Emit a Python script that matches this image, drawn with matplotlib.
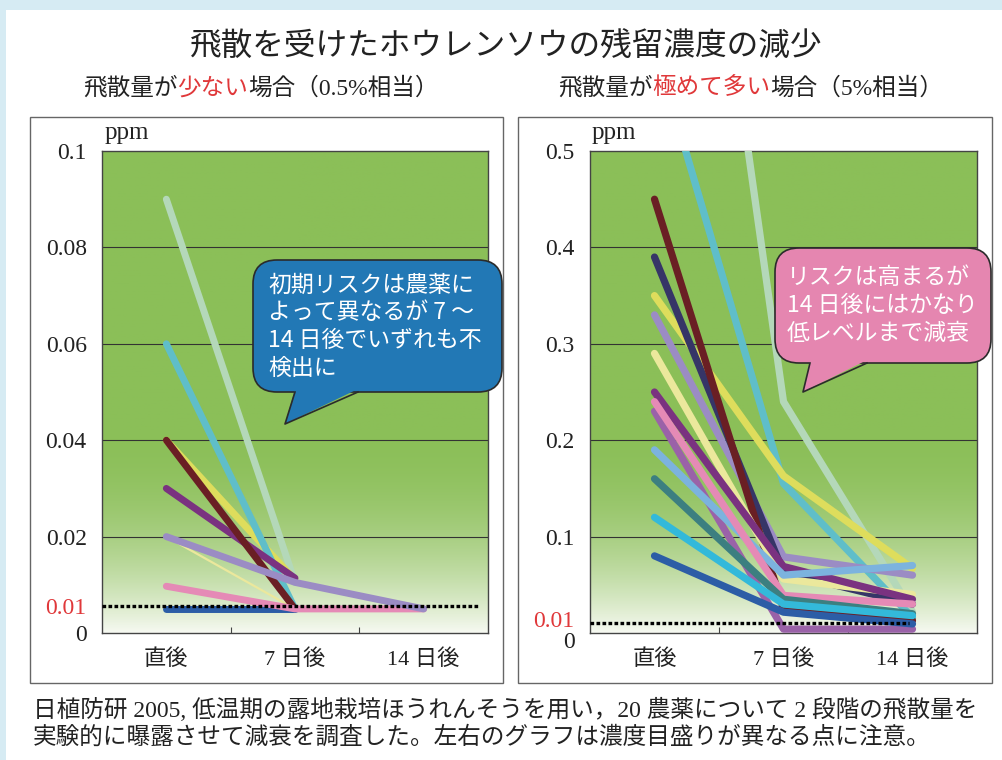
import numpy as np
import matplotlib
matplotlib.use('Agg')
import matplotlib.pyplot as plt
import matplotlib.transforms as mtransforms
from matplotlib.patches import Rectangle, FancyBboxPatch, Polygon
from matplotlib.lines import Line2D

plt.rcParams['font.family'] = ['Liberation Serif', 'Noto Sans CJK JP']

nan = np.nan
days = ['直後', '7 日後', '14 日後']

# 飛散量が少ない場合 (0.5%相当), ppm  不検出は点線のすぐ下 (0.005)
low_pale_yellow = [0.020, 0.0050, nan]
low_light_green = [0.090, 0.0105, nan]
low_yellow = [0.040, 0.0110, nan]
low_cyan = [0.060, 0.0050, nan]
low_purple = [0.030, 0.0114, nan]
low_maroon = [0.040, 0.0050, nan]
low_blue = [0.0050, 0.0050, nan]
low_pink = [0.0097, 0.0050, 0.0050]
low_lavender = [0.020, 0.0105, 0.0050]
low_limit = 0.0056      # 点線 (検出限界 0.01 の表示位置)

# 飛散量が極めて多い場合 (5%相当), ppm
high_light_green = [1.19, 0.240, 0.022]
high_cyan = [0.61, 0.155, 0.016]
high_yellow = [0.35, 0.163, 0.067]
high_lavender = [0.33, 0.079, 0.060]
high_navy = [0.39, 0.063, 0.030]
high_maroon = [0.45, 0.025, 0.013]
high_pale_yellow = [0.29, 0.056, 0.040]
high_purple = [0.25, 0.069, 0.035]
high_violet = [0.23, 0.004, 0.004]
high_light_blue = [0.19, 0.060, 0.070]
high_pink = [0.24, 0.039, 0.030]
high_teal = [0.16, 0.035, 0.020]
high_bright_cyan = [0.12, 0.030, 0.018]
high_blue = [0.080, 0.0216, 0.0094]
high_limit = 0.010

low_ticks = [0, low_limit, 0.02, 0.04, 0.06, 0.08, 0.1]
low_labels = ['0', '0.01', '0.02', '0.04', '0.06', '0.08', '0.1']
high_ticks = [0, high_limit, 0.1, 0.2, 0.3, 0.4, 0.5]
high_labels = ['0', '0.01', '0.1', '0.2', '0.3', '0.4', '0.5']

colors = {
    'light_green': '#b4d8b9', 'cyan': '#5fbec9', 'yellow': '#dedd5c',
    'lavender': '#9b8cc4', 'navy': '#363567', 'maroon': '#6a1f24',
    'pale_yellow': '#ebe89c', 'purple': '#7a3280', 'violet': '#9a62a8',
    'light_blue': '#7cb3de', 'pink': '#e58ab6', 'teal': '#3c7f80',
    'bright_cyan': '#33b9da', 'blue': '#2c5da6',
}
RED = '#e0383a'
DARK = '#222222'

W, H = 1003, 760
fig = plt.figure(figsize=(W / 100, H / 100), dpi=100, facecolor='#d6ebf3')
# pixel coords, y from the top
px = mtransforms.Affine2D().scale(1 / W, -1 / H).translate(0, 1) + fig.transFigure

fig.add_artist(Rectangle((6, 10), W - 6, H - 10, transform=px, facecolor='white',
                         edgecolor='none', zorder=-10))
for x0, x1 in [(30, 503), (518, 992)]:
    fig.add_artist(Rectangle((x0, 117), x1 - x0, 566, transform=px, fill=False,
                             edgecolor='#666666', lw=1.0, zorder=-5))

xpos = np.array([0.5, 1.5, 2.5])


def setup_axes(ax, ymax, ticks, labels, limit, dot_end):
    frac = np.linspace(0, 1, 300)[:, None]
    w = np.clip(1 - frac / 0.42, 0, 1) ** 2
    top = np.array([139, 191, 88]) / 255
    bot = np.array([246, 249, 241]) / 255
    img = top * (1 - w[..., None]) + bot * w[..., None]
    ax.imshow(img, extent=[0, 1, 0, 1], transform=ax.transAxes, origin='lower',
              aspect='auto', zorder=0)
    ax.set_xlim(0, 3)
    ax.set_ylim(0, ymax)
    for t in ticks[2:-1]:
        ax.axhline(t, color='#333333', lw=0.8, zorder=1)
    for s in ax.spines.values():
        s.set_color('#444444')
        s.set_linewidth(1.0)
    ax.set_xticks([1, 2])
    ax.set_xticklabels([])
    ax.tick_params(axis='x', which='major', direction='in', length=4, color='#444444')
    ax.set_xticks(xpos, minor=True)
    ax.set_xticklabels(days, minor=True, fontsize=16, color=DARK)
    ax.tick_params(axis='x', which='minor', length=0, pad=12)
    ax.set_yticks(ticks, labels)
    ax.tick_params(axis='y', length=0, pad=11, labelsize=17, labelcolor=DARK)
    ax.get_yticklabels()[1].set_color(RED)
    ax.plot([0, dot_end], [limit, limit], color='black', lw=2.4,
            linestyle=(0, (1.1, 0.7)), zorder=30)


def draw_series(ax, series, lw):
    for i, (vals, name, width) in enumerate(series):
        ax.plot(xpos, vals, color=colors[name], lw=width if width else lw,
                solid_capstyle='round', solid_joinstyle='round', zorder=3 + i)


ax1 = fig.add_axes([102 / W, 1 - 633 / H, 386 / W, 482 / H])
setup_axes(ax1, 0.1, low_ticks, low_labels, low_limit, 2.92)
draw_series(ax1, [
    (low_pale_yellow, 'pale_yellow', 1.6),
    (low_light_green, 'light_green', None),
    (low_yellow, 'yellow', None),
    (low_cyan, 'cyan', None),
    (low_purple, 'purple', None),
    (low_maroon, 'maroon', None),
    (low_blue, 'blue', None),
    (low_pink, 'pink', None),
    (low_lavender, 'lavender', None),
], 5.0)

ax2 = fig.add_axes([590 / W, 1 - 633 / H, 387 / W, 482 / H])
setup_axes(ax2, 0.5, high_ticks, high_labels, high_limit, 2.47)
draw_series(ax2, [
    (high_light_green, 'light_green', None),
    (high_cyan, 'cyan', None),
    (high_yellow, 'yellow', None),
    (high_lavender, 'lavender', None),
    (high_navy, 'navy', None),
    (high_maroon, 'maroon', None),
    (high_pale_yellow, 'pale_yellow', None),
    (high_purple, 'purple', None),
    (high_violet, 'violet', None),
    (high_light_blue, 'light_blue', None),
    (high_pink, 'pink', None),
    (high_teal, 'teal', None),
    (high_bright_cyan, 'bright_cyan', None),
    (high_blue, 'blue', None),
], 5.2)
# 0 と 0.01 のラベルが重ならないよう少しずらす
lab = ax2.get_yticklabels()
lab[0].set_transform(lab[0].get_transform() +
                     mtransforms.ScaledTranslation(0, -0.07, fig.dpi_scale_trans))
lab[1].set_transform(lab[1].get_transform() +
                     mtransforms.ScaledTranslation(0, 0.04, fig.dpi_scale_trans))

for x in [105, 592]:
    fig.text(x, 133, 'ppm', transform=px, fontsize=18, color=DARK, va='center', ha='left')

# titles
fig.text(506, 47, '飛散を受けたホウレンソウの残留濃度の減少', transform=px, fontsize=22.8,
         color=DARK, ha='center', va='center', family=['Noto Sans CJK JP'])


def colored_line(x, y, parts, fs):
    t = fig.text(x, y, parts[0][0], transform=px, color=parts[0][1], fontsize=fs,
                 va='center', ha='left')
    for s, c in parts[1:]:
        t = ax1.annotate(s, xy=(1, 0), xycoords=t, va='bottom', ha='left',
                         color=c, fontsize=fs, annotation_clip=False)


colored_line(83, 88, [('飛散量が', DARK), ('少ない', RED), ('場合（0.5%相当）', DARK)], 17)
colored_line(558, 88, [('飛散量が', DARK), ('極めて多い', RED), ('場合（5%相当）', DARK)], 17)


def callout(box, tail, color, lines, tx, ty, dy, fs):
    x0, y0, x1, y1 = box
    fig.add_artist(FancyBboxPatch((x0, y0), x1 - x0, y1 - y0,
                                  boxstyle='round,pad=0,rounding_size=24', transform=px,
                                  facecolor=color, edgecolor='#2b2b2b', lw=1.2, zorder=10))
    bx0, bx1, tipx, tipy = tail
    fig.add_artist(Polygon([(bx0, y1 - 3), (tipx, tipy), (bx1, y1 - 3)], closed=True,
                           transform=px, facecolor=color, edgecolor='none', zorder=11))
    fig.add_artist(Line2D([bx0, tipx, bx1], [y1, tipy, y1], transform=px,
                          color='#2b2b2b', lw=1.2, zorder=12))
    for i, s in enumerate(lines):
        fig.text(tx, ty + i * dy, s, transform=px, color='white', fontsize=fs,
                 va='center', ha='left', family=['Noto Sans CJK JP'], zorder=13)


callout((253, 260, 502, 392), (295, 358, 285, 424), '#2278b5',
        ['初期リスクは農薬に', 'よって異なるが 7 ～', '14 日後でいずれも不', '検出に'],
        268, 285, 27.7, 16.5)
callout((775, 248, 991, 363), (810, 867, 803, 392), '#e586b0',
        ['リスクは高まるが', '14 日後にはかなり', '低レベルまで減衰'],
        787, 278, 27.5, 16.5)

fig.text(33, 710, '日植防研 2005, 低温期の露地栽培ほうれんそうを用い，20 農薬について 2 段階の飛散量を',
         transform=px, fontsize=17, color=DARK, va='center', ha='left')
fig.text(33, 738, '実験的に曝露させて減衰を調査した。左右のグラフは濃度目盛りが異なる点に注意。',
         transform=px, fontsize=17, color=DARK, va='center', ha='left')

fig.savefig('out.png', dpi=100, facecolor=fig.get_facecolor())
